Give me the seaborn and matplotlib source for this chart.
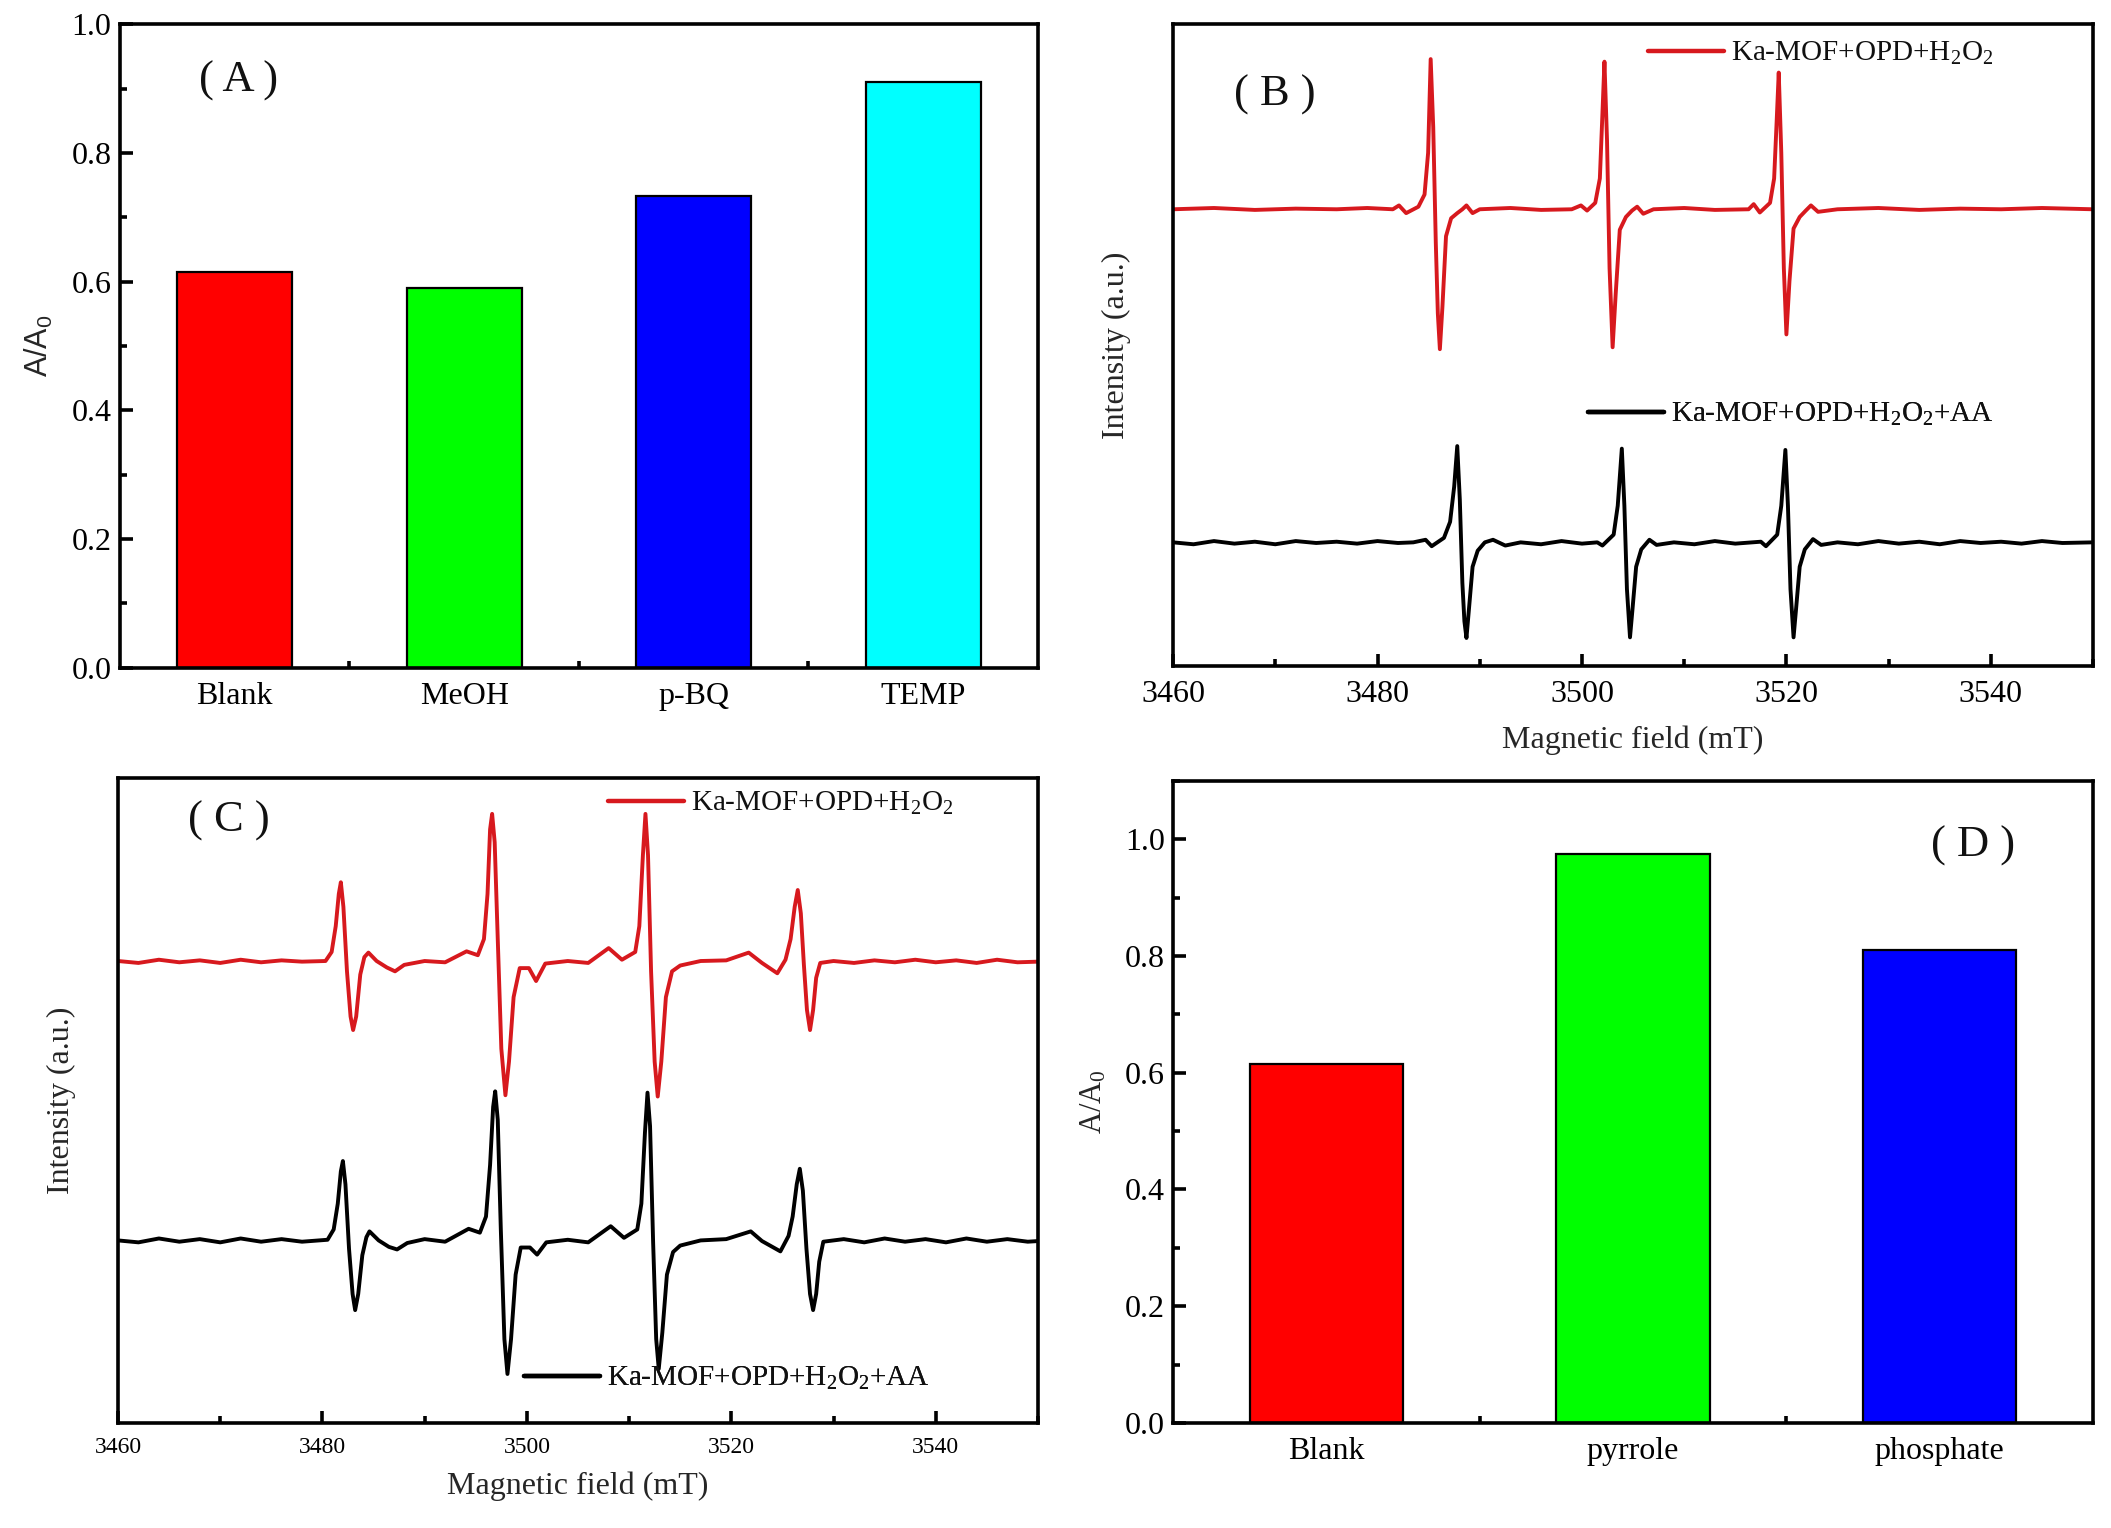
import numpy as np
import pandas as pd
import seaborn as sns
import matplotlib.pyplot as plt
from matplotlib.ticker import MultipleLocator, NullLocator, FixedLocator

# ---- data ----
# panel A: scavenger test
scav_labels = ['Blank', 'MeOH', 'p-BQ', 'TEMP']
scav_values = [0.615, 0.59, 0.733, 0.91]
scav_colors = ['#FF0000', '#00FF00', '#0000FF', '#00FFFF']

# panel D: interference test
intf_labels = ['Blank', 'pyrrole', 'phosphate']
intf_values = [0.615, 0.975, 0.81]
intf_colors = ['#FF0000', '#00FF00', '#0000FF']

b_red_x = [3460, 3464, 3468, 3472, 3476, 3479, 3481.5, 3482.1, 3482.8, 3484.0,
           3484.6, 3484.95, 3485.2, 3485.45, 3485.7, 3485.9, 3486.1, 3486.35, 3486.7, 3487.2,
           3487.8, 3488.3, 3488.7, 3489.3, 3490, 3493, 3496, 3499.0, 3499.9, 3500.5,
           3501.3, 3501.75, 3502.0, 3502.2, 3502.45, 3502.7, 3503.0, 3503.3, 3503.7, 3504.3,
           3504.9, 3505.4, 3506.0, 3507, 3510, 3513, 3516.3, 3516.8, 3517.4, 3518.4,
           3518.8, 3519.05, 3519.25, 3519.5, 3519.75, 3520.0, 3520.3, 3520.7, 3521.3, 3521.9,
           3522.4, 3523.1, 3525, 3529, 3533, 3537, 3541, 3545, 3550]
b_red_y = [0.712, 0.714, 0.711, 0.713, 0.712, 0.714, 0.712, 0.718, 0.706, 0.716,
           0.735, 0.80, 0.946, 0.84, 0.66, 0.55, 0.494, 0.56, 0.670, 0.698,
           0.706, 0.712, 0.718, 0.706, 0.712, 0.714, 0.711, 0.712, 0.718, 0.710,
           0.722, 0.76, 0.86, 0.942, 0.82, 0.62, 0.497, 0.58, 0.680, 0.700,
           0.710, 0.716, 0.705, 0.712, 0.714, 0.711, 0.712, 0.720, 0.707, 0.722,
           0.76, 0.85, 0.925, 0.80, 0.62, 0.517, 0.60, 0.682, 0.700, 0.710,
           0.718, 0.708, 0.712, 0.714, 0.711, 0.713, 0.712, 0.714, 0.712]

b_blk_x = [3460, 3462, 3464, 3466, 3468, 3470, 3472, 3474, 3476, 3478,
           3480, 3482, 3483.5, 3484.7, 3485.3, 3486.5, 3487.1, 3487.5, 3487.8, 3488.05,
           3488.3, 3488.5, 3488.7, 3488.95, 3489.3, 3489.8, 3490.5, 3491.3, 3492.5, 3494,
           3496, 3498, 3500, 3501.5, 3502.0, 3503.1, 3503.5, 3503.9, 3504.15, 3504.4,
           3504.7, 3504.95, 3505.3, 3505.8, 3506.6, 3507.3, 3509, 3511, 3513, 3515,
           3517.5, 3518.0, 3519.1, 3519.5, 3519.9, 3520.15, 3520.4, 3520.7, 3520.95, 3521.3,
           3521.8, 3522.6, 3523.4, 3525, 3527, 3529, 3531, 3533, 3535, 3537,
           3539, 3541, 3543, 3545, 3547, 3550]
b_blk_y = [0.193, 0.190, 0.195, 0.191, 0.194, 0.190, 0.195, 0.192, 0.194, 0.191,
           0.195, 0.192, 0.193, 0.197, 0.187, 0.200, 0.225, 0.28, 0.343, 0.26,
           0.13, 0.07, 0.044, 0.09, 0.155, 0.180, 0.193, 0.197, 0.188, 0.193,
           0.190, 0.195, 0.191, 0.193, 0.188, 0.205, 0.25, 0.339, 0.25, 0.12,
           0.045, 0.09, 0.155, 0.182, 0.197, 0.189, 0.193, 0.190, 0.195, 0.191,
           0.194, 0.187, 0.205, 0.25, 0.337, 0.25, 0.12, 0.045, 0.09, 0.155,
           0.182, 0.198, 0.189, 0.193, 0.190, 0.195, 0.191, 0.194, 0.190, 0.195,
           0.192, 0.194, 0.191, 0.195, 0.192, 0.193]

# panel C: EPR (normalised intensity)
c_red_x = [3460, 3462, 3464, 3466, 3468, 3470, 3472, 3474, 3476, 3478,
           3480.3, 3480.9, 3481.3, 3481.6, 3481.8, 3482.05, 3482.4, 3482.75, 3483.0, 3483.3,
           3483.7, 3484.1, 3484.5, 3485.3, 3486.3, 3487.1, 3488.0, 3490, 3492, 3494.1,
           3495.2, 3495.8, 3496.15, 3496.4, 3496.6, 3496.85, 3497.15, 3497.5, 3497.9, 3498.25,
           3498.7, 3499.3, 3500.2, 3500.9, 3501.8, 3504, 3506, 3508.0, 3509.3, 3510.6,
           3511.0, 3511.35, 3511.6, 3511.85, 3512.15, 3512.5, 3512.8, 3513.15, 3513.6, 3514.2,
           3515, 3517, 3519.5, 3521.7, 3523, 3524.5, 3525.3, 3525.8, 3526.2, 3526.5,
           3526.8, 3527.1, 3527.4, 3527.7, 3528.0, 3528.3, 3528.7, 3530, 3532, 3534,
           3536, 3538, 3540, 3542, 3544, 3546, 3548, 3550]
c_red_y = [0.716, 0.713, 0.718, 0.714, 0.717, 0.713, 0.718, 0.714, 0.717, 0.715,
           0.716, 0.73, 0.77, 0.82, 0.838, 0.80, 0.70, 0.63, 0.609, 0.63,
           0.695, 0.722, 0.729, 0.716, 0.706, 0.700, 0.710, 0.716, 0.714, 0.731,
           0.725, 0.75, 0.82, 0.92, 0.944, 0.90, 0.75, 0.58, 0.508, 0.56,
           0.66, 0.705, 0.705, 0.685, 0.712, 0.716, 0.713, 0.736, 0.718, 0.73,
           0.77, 0.88, 0.944, 0.88, 0.70, 0.56, 0.506, 0.56, 0.66, 0.700,
           0.709, 0.716, 0.717, 0.729, 0.713, 0.697, 0.718, 0.75, 0.80, 0.826,
           0.79, 0.71, 0.64, 0.609, 0.64, 0.69, 0.713, 0.716, 0.713, 0.717,
           0.714, 0.718, 0.714, 0.717, 0.713, 0.718, 0.714, 0.715]

c_blk_x = [3460, 3462, 3464, 3466, 3468, 3470, 3472, 3474, 3476, 3478,
           3480.5, 3481.1, 3481.5, 3481.8, 3482.0, 3482.25, 3482.6, 3482.95, 3483.2, 3483.5,
           3483.9, 3484.3, 3484.6, 3485.5, 3486.5, 3487.3, 3488.3, 3490, 3492, 3494.3,
           3495.4, 3496.0, 3496.4, 3496.7, 3496.9, 3497.15, 3497.45, 3497.8, 3498.1, 3498.45,
           3498.9, 3499.4, 3500.3, 3501.0, 3501.9, 3504, 3506, 3508.2, 3509.5, 3510.8,
           3511.2, 3511.55, 3511.8, 3512.05, 3512.35, 3512.65, 3512.9, 3513.25, 3513.7, 3514.3,
           3515, 3517, 3519.5, 3521.9, 3523, 3524.8, 3525.6, 3526.0, 3526.4, 3526.7,
           3527.0, 3527.35, 3527.7, 3528.0, 3528.3, 3528.6, 3529.0, 3531, 3533, 3535,
           3537, 3539, 3541, 3543, 3545, 3547, 3549, 3550]
c_blk_y = [0.283, 0.280, 0.286, 0.281, 0.285, 0.280, 0.286, 0.281, 0.285, 0.281,
           0.284, 0.30, 0.34, 0.39, 0.406, 0.37, 0.27, 0.20, 0.175, 0.20,
           0.26, 0.288, 0.297, 0.283, 0.273, 0.269, 0.279, 0.285, 0.281, 0.301,
           0.295, 0.32, 0.40, 0.49, 0.514, 0.47, 0.30, 0.13, 0.076, 0.13,
           0.23, 0.272, 0.272, 0.261, 0.28, 0.284, 0.280, 0.305, 0.287, 0.30,
           0.34, 0.45, 0.512, 0.46, 0.28, 0.13, 0.084, 0.14, 0.23, 0.265,
           0.275, 0.283, 0.285, 0.297, 0.282, 0.266, 0.29, 0.32, 0.37, 0.394,
           0.36, 0.27, 0.20, 0.175, 0.20, 0.25, 0.281, 0.285, 0.280, 0.286,
           0.281, 0.285, 0.280, 0.286, 0.281, 0.285, 0.281, 0.282]

lab_red = 'Ka-MOF+OPD+H$\\mathregular{_2}$O$\\mathregular{_2}$'
lab_blk = 'Ka-MOF+OPD+H$\\mathregular{_2}$O$\\mathregular{_2}$+AA'

RED = '#D7191E'
SERIF = 'Liberation Serif'

sns.set_theme(style='ticks')
plt.rcParams.update({
    'font.family': SERIF,
    'axes.linewidth': 2.6,
    'axes.edgecolor': 'black',
    'xtick.direction': 'in',
    'ytick.direction': 'in',
    'xtick.major.size': 9, 'xtick.major.width': 2.6,
    'ytick.major.size': 9, 'ytick.major.width': 2.6,
    'xtick.minor.size': 5, 'xtick.minor.width': 2.6,
    'ytick.minor.size': 5, 'ytick.minor.width': 2.6,
    'xtick.color': 'black', 'ytick.color': 'black',
    'text.color': '#111111',
})

fig = plt.figure(figsize=(21.11, 15.28), dpi=100)
axA = fig.add_axes([0.0568, 0.563, 0.4349, 0.421])
axB = fig.add_axes([0.5557, 0.564, 0.4358, 0.420])
axC = fig.add_axes([0.0559, 0.0687, 0.4358, 0.4223])
axD = fig.add_axes([0.5557, 0.0687, 0.4358, 0.4203])


def bar_panel(ax, labels, values, colors, ymax, fs):
    df = pd.DataFrame({'cat': labels, 'val': values})
    sns.barplot(data=df, x='cat', y='val', hue='cat', palette=colors, width=0.5,
                edgecolor='black', linewidth=1.6, saturation=1, legend=False, ax=ax)
    n = len(labels)
    ax.set_xlim(-0.5, n - 0.5)
    ax.set_ylim(0, ymax)
    ax.yaxis.set_major_locator(MultipleLocator(0.2))
    ax.yaxis.set_minor_locator(MultipleLocator(0.1))
    ax.xaxis.set_minor_locator(FixedLocator([i + 0.5 for i in range(n - 1)]))
    ax.yaxis.set_major_formatter(lambda v, p: f'{v:.1f}')
    ax.tick_params(axis='x', labelsize=fs, pad=10)
    ax.tick_params(axis='y', labelsize=fs, pad=6)
    ax.set_xlabel('')
    for s in ax.spines.values():
        s.set_visible(True)


def epr_panel(ax, red_x, red_y, blk_x, blk_y, fs):
    sns.lineplot(x=red_x, y=red_y, sort=False, estimator=None, color=RED, lw=2.8, ax=ax)
    sns.lineplot(x=blk_x, y=blk_y, sort=False, estimator=None, color='black', lw=2.8, ax=ax)
    ax.set_xlim(3460, 3550)
    ax.set_ylim(0, 1)
    ax.xaxis.set_major_locator(MultipleLocator(20))
    ax.xaxis.set_minor_locator(MultipleLocator(10))
    ax.yaxis.set_major_locator(NullLocator())
    ax.tick_params(axis='x', labelsize=fs, pad=10)
    for s in ax.spines.values():
        s.set_visible(True)


def put_legend(ax, line, label, x, y, fs):
    leg = ax.legend([line], [label], loc='center left', bbox_to_anchor=(x, y),
                    frameon=False, borderaxespad=0, borderpad=0, handlelength=2.6,
                    handletextpad=0.25, prop={'family': SERIF, 'size': fs})
    leg.get_lines()[0].set_linewidth(3.2)
    ax.add_artist(leg)


# (A)
bar_panel(axA, scav_labels, scav_values, scav_colors, 1.0, 23)
axA.set_ylabel('A/A$\\mathregular{_0}$', fontsize=22, family='Liberation Sans', labelpad=12)
axA.text(0.129, 0.912, '( A )', transform=axA.transAxes, fontsize=32,
         ha='center', va='center')

# (B)
epr_panel(axB, b_red_x, b_red_y, b_blk_x, b_blk_y, 23)
axB.set_xlabel('Magnetic field (mT)', fontsize=23, labelpad=12)
axB.set_ylabel('Intensity (a.u.)', fontsize=23, labelpad=30)
lines = axB.get_lines()
put_legend(axB, lines[0], lab_red, 0.516, 0.955, 21)
put_legend(axB, lines[1], lab_blk, 0.451, 0.392, 21)
axB.text(0.111, 0.891, '( B )', transform=axB.transAxes, fontsize=32,
         ha='center', va='center')

# (C)
epr_panel(axC, c_red_x, c_red_y, c_blk_x, c_blk_y, 17)
axC.set_xlabel('Magnetic field (mT)', fontsize=23, labelpad=10)
axC.set_ylabel('Intensity (a.u.)', fontsize=23, labelpad=30)
lines = axC.get_lines()
put_legend(axC, lines[0], lab_red, 0.533, 0.96, 21)
put_legend(axC, lines[1], lab_blk, 0.441, 0.069, 21)
axC.text(0.12, 0.933, '( C )', transform=axC.transAxes, fontsize=32,
         ha='center', va='center')

# (D)
bar_panel(axD, intf_labels, intf_values, intf_colors, 1.1, 23)
axD.set_ylabel('A/A$\\mathregular{_0}$', fontsize=22, labelpad=12)
axD.text(0.87, 0.899, '( D )', transform=axD.transAxes, fontsize=32,
         ha='center', va='center')

fig.savefig('out.png', dpi=100, facecolor='white')
